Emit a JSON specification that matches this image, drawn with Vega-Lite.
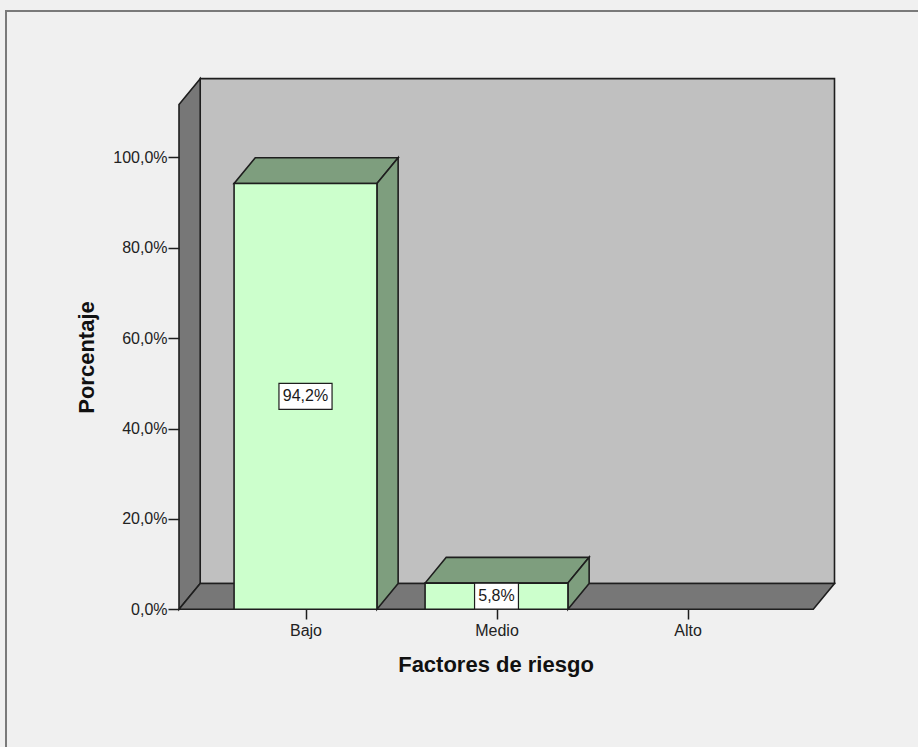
{
  "$schema": "https://vega.github.io/schema/vega-lite/v6.json",
  "width": 912,
  "height": 736,
  "autosize": {"type": "none"},
  "padding": {"left": 6, "top": 11, "right": 0, "bottom": 0},
  "background": "#f0f0f0",
  "config": {
    "font": "Liberation Sans",
    "view": {"fill": "#f0f0f0", "stroke": "#7a7a7a", "strokeWidth": 2, "strokeDash": [912, 1648, 736]}
  },
  "params": [
    {"name": "dX", "value": 0.111},
    {"name": "dY", "value": 5.7},
    {"name": "hw", "value": 0.374},
    {"name": "xMin", "value": -0.6623},
    {"name": "xMax", "value": 2.7696},
    {"name": "yTop", "value": 111.7},
    {"name": "anchoCar", "value": 0.0482},
    {"name": "margenCaja", "value": 0.037},
    {"name": "altoCaja", "value": 5.75}
  ],
  "datasets": {
    "factores": [
      {"factor": "Bajo", "porcentaje": 94.2},
      {"factor": "Medio", "porcentaje": 5.8},
      {"factor": "Alto", "porcentaje": 0}
    ],
    "caras": [{"k": 0}, {"k": 1}]
  },
  "encoding": {
    "x": {
      "field": "x",
      "type": "quantitative",
      "scale": {"domain": [-1.5681, 3.2068], "nice": false, "zero": false},
      "axis": {
        "values": [0, 1, 2],
        "labelExpr": "['Bajo','Medio','Alto'][datum.value]",
        "offset": -138,
        "domain": false,
        "grid": false,
        "tickSize": 10,
        "tickColor": "#1e1e1e",
        "tickWidth": 1.5,
        "labelFontSize": 16,
        "labelColor": "#222222",
        "labelPadding": 3,
        "labelFlush": false,
        "labelOverlap": false,
        "title": "Factores de riesgo",
        "titleFontSize": 22,
        "titleFontWeight": "bold",
        "titleColor": "#111111",
        "titleX": 489.5,
        "titleY": 62,
        "titleAlign": "center",
        "titleBaseline": "alphabetic",
        "zindex": 1
      }
    },
    "y": {
      "field": "y",
      "type": "quantitative",
      "scale": {"domain": [-30.46, 132.37], "nice": false, "zero": false},
      "axis": {
        "values": [0, 20, 40, 60, 80, 100],
        "labelExpr": "replace(format(datum.value, '.1f'), '.', ',') + '%'",
        "offset": -173,
        "domain": false,
        "grid": false,
        "tickSize": 11,
        "tickColor": "#1e1e1e",
        "tickWidth": 1.5,
        "labelFontSize": 16,
        "labelColor": "#222222",
        "labelPadding": 1,
        "title": "Porcentaje",
        "titleFontSize": 22,
        "titleFontWeight": "bold",
        "titleColor": "#111111",
        "titleAngle": -90,
        "titleX": -93,
        "titleY": 346,
        "titleAlign": "center",
        "titleBaseline": "middle",
        "zindex": 1
      }
    }
  },
  "layer": [
    {
      "data": {"name": "caras"},
      "transform": [
        {"filter": "datum.k == 1"},
        {"calculate": "xMin + dX", "as": "x"},
        {"calculate": "xMax", "as": "x2"},
        {"calculate": "dY", "as": "y"},
        {"calculate": "yTop + dY", "as": "y2"}
      ],
      "mark": {"type": "rect", "fill": "#c0c0c0", "stroke": "#1e1e1e", "strokeWidth": 1.6},
      "encoding": {"x2": {"field": "x2"}, "y2": {"field": "y2"}}
    },
    {
      "data": {"name": "caras"},
      "transform": [
        {"calculate": "xMin + datum.k * dX", "as": "x"},
        {"calculate": "datum.k * dY", "as": "y"},
        {"calculate": "yTop + datum.k * dY", "as": "y2"}
      ],
      "mark": {"type": "area", "orient": "vertical", "fill": "#777777", "fillOpacity": 1, "stroke": "#1e1e1e", "strokeWidth": 1.6, "strokeJoin": "miter"},
      "encoding": {"y2": {"field": "y2"}}
    },
    {
      "data": {"name": "caras"},
      "transform": [
        {"calculate": "datum.k * dY", "as": "y"},
        {"calculate": "xMin + datum.k * dX", "as": "x"},
        {"calculate": "xMax - dX + datum.k * dX", "as": "x2"}
      ],
      "mark": {"type": "area", "orient": "horizontal", "fill": "#777777", "fillOpacity": 1, "stroke": "#1e1e1e", "strokeWidth": 1.6, "strokeJoin": "miter"},
      "encoding": {"x2": {"field": "x2"}}
    },
    {
      "data": {"name": "factores"},
      "transform": [
        {"filter": "datum.porcentaje > 0"},
        {"calculate": "indexof(['Bajo','Medio','Alto'], datum.factor)", "as": "idx"},
        {"calculate": "[0, 1]", "as": "k"},
        {"flatten": ["k"]},
        {"calculate": "datum.porcentaje + datum.k * dY", "as": "y"},
        {"calculate": "datum.idx - hw + datum.k * dX", "as": "x"},
        {"calculate": "datum.idx + hw + datum.k * dX", "as": "x2"}
      ],
      "mark": {"type": "area", "orient": "horizontal", "fill": "#7e9e7e", "fillOpacity": 1, "stroke": "#1e1e1e", "strokeWidth": 1.6, "strokeJoin": "miter"},
      "encoding": {"x2": {"field": "x2"}, "detail": {"field": "factor"}}
    },
    {
      "data": {"name": "factores"},
      "transform": [
        {"filter": "datum.porcentaje > 0"},
        {"calculate": "indexof(['Bajo','Medio','Alto'], datum.factor)", "as": "idx"},
        {"calculate": "[0, 1]", "as": "k"},
        {"flatten": ["k"]},
        {"calculate": "datum.idx + hw + datum.k * dX", "as": "x"},
        {"calculate": "datum.k * dY", "as": "y"},
        {"calculate": "datum.porcentaje + datum.k * dY", "as": "y2"}
      ],
      "mark": {"type": "area", "orient": "vertical", "fill": "#7e9e7e", "fillOpacity": 1, "stroke": "#1e1e1e", "strokeWidth": 1.6, "strokeJoin": "miter"},
      "encoding": {"y2": {"field": "y2"}, "detail": {"field": "factor"}}
    },
    {
      "data": {"name": "factores"},
      "transform": [
        {"filter": "datum.porcentaje > 0"},
        {"calculate": "indexof(['Bajo','Medio','Alto'], datum.factor)", "as": "idx"},
        {"calculate": "datum.idx - hw", "as": "x"},
        {"calculate": "datum.idx + hw", "as": "x2"},
        {"calculate": "0", "as": "y"},
        {"calculate": "datum.porcentaje", "as": "y2"}
      ],
      "mark": {"type": "rect", "fill": "#ccffcc", "stroke": "#1e1e1e", "strokeWidth": 1.6},
      "encoding": {"x2": {"field": "x2"}, "y2": {"field": "y2"}}
    },
    {
      "data": {"name": "factores"},
      "transform": [
        {"filter": "datum.porcentaje > 0"},
        {"calculate": "indexof(['Bajo','Medio','Alto'], datum.factor)", "as": "idx"},
        {"calculate": "replace(format(datum.porcentaje, '.1f'), '.', ',') + '%'", "as": "etiqueta"},
        {"calculate": "(length(datum.etiqueta) * anchoCar + margenCaja) / 2", "as": "semi"},
        {"calculate": "datum.idx - datum.semi", "as": "x"},
        {"calculate": "datum.idx + datum.semi", "as": "x2"},
        {"calculate": "datum.porcentaje / 2 - altoCaja / 2", "as": "y"},
        {"calculate": "datum.porcentaje / 2 + altoCaja / 2", "as": "y2"}
      ],
      "mark": {"type": "rect", "fill": "#ffffff", "stroke": "#1e1e1e", "strokeWidth": 1.2},
      "encoding": {"x2": {"field": "x2"}, "y2": {"field": "y2"}}
    },
    {
      "data": {"name": "factores"},
      "transform": [
        {"filter": "datum.porcentaje > 0"},
        {"calculate": "indexof(['Bajo','Medio','Alto'], datum.factor)", "as": "idx"},
        {"calculate": "replace(format(datum.porcentaje, '.1f'), '.', ',') + '%'", "as": "etiqueta"},
        {"calculate": "datum.idx", "as": "x"},
        {"calculate": "datum.porcentaje / 2", "as": "y"}
      ],
      "mark": {"type": "text", "fontSize": 16, "fill": "#1a1a1a", "align": "center", "baseline": "middle"},
      "encoding": {"text": {"field": "etiqueta"}}
    }
  ]
}
